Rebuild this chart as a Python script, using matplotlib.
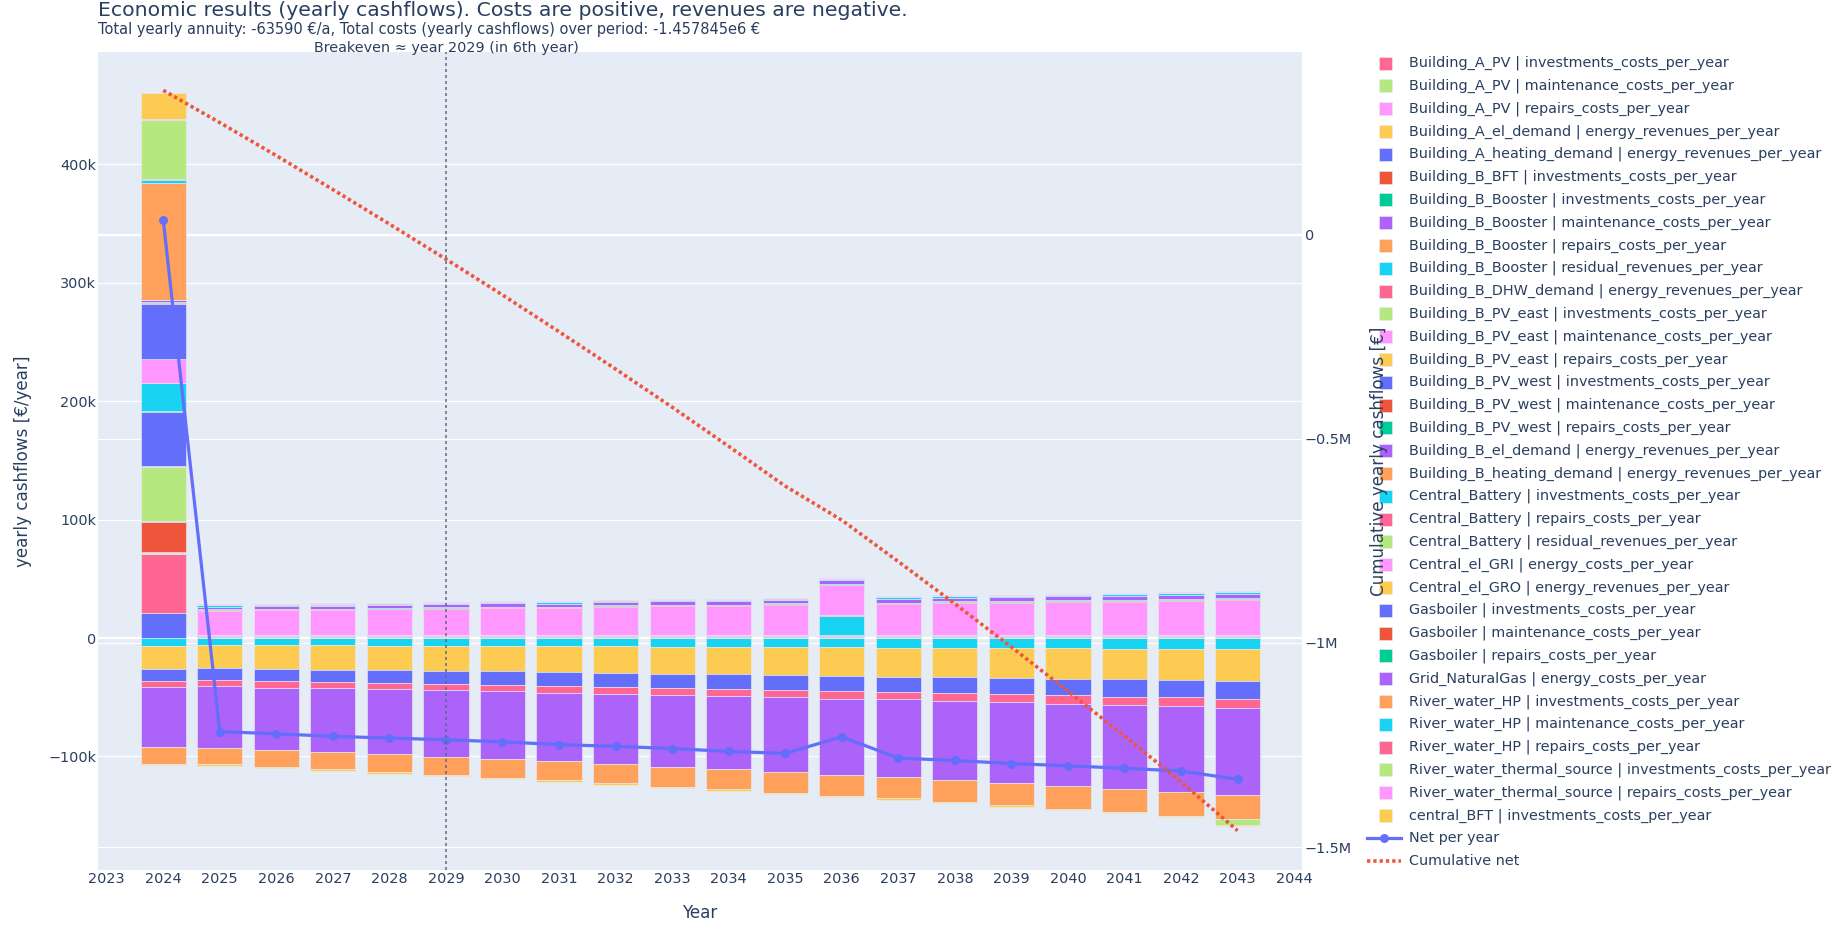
import matplotlib
matplotlib.use("Agg")
import matplotlib.pyplot as plt
import numpy as np
from matplotlib.patches import Rectangle
from matplotlib.lines import Line2D
from matplotlib.transforms import blended_transform_factory
from matplotlib.ticker import FuncFormatter

plt.rcParams['font.family'] = ['DejaVu Sans']

# ---------------- data (k€ per year) ----------------
years = [2024, 2025, 2026, 2027, 2028, 2029, 2030, 2031, 2032, 2033,
         2034, 2035, 2036, 2037, 2038, 2039, 2040, 2041, 2042, 2043]

# segments drawn in the chart that have no legend entry
unlisted_pos = [21.0, 0, 0, 0, 0, 0, 0, 0, 0, 0, 0, 0, 0, 0, 0, 0, 0, 0, 0, 0]
unlisted_neg = [-7.0, -6.1, -6.2, -6.2, -6.6, -6.6, -6.9, -6.9, -7.1, -7.2,
                -7.6, -7.6, -7.6, -8.0, -8.1, -8.1, -8.6, -8.9, -8.9, -9.4]

a_pv_inv = [50.0, 0, 0, 0, 0, 0, 0, 0, 0, 0, 0, 0, 0, 0, 0, 0, 0, 0, 0, 0]
a_pv_maint = [1.0, 0.5, 0.5, 0.5, 0.5, 0.5, 0.5, 0.5, 0.5, 0.5, 0.5, 0.5, 0.5, 0.5, 0.5, 0.5, 0.5, 0.5, 0.5, 0.5]
a_pv_rep = [0.9, 0.3, 0.3, 0.3, 0.3, 0.3, 0.3, 0.3, 0.3, 0.3, 0.3, 0.3, 0.3, 0.3, 0.3, 0.3, 0.3, 0.3, 0.3, 0.3]
a_el_rev = [-19.0, -19.5, -20.0, -20.4, -20.6, -21.3, -21.2, -22.0, -22.4, -23.0,
            -23.2, -23.7, -24.3, -24.5, -25.2, -25.7, -25.6, -26.0, -26.8, -27.3]
a_heat_rev = [-9.9, -10.1, -10.3, -10.7, -11.0, -10.8, -11.3, -11.3, -11.6, -11.7,
              -11.9, -12.2, -12.8, -13.0, -13.0, -13.6, -13.9, -14.5, -14.5, -14.8]
b_bft_inv = [25.3, 0, 0, 0, 0, 0, 0, 0, 0, 0, 0, 0, 0, 0, 0, 0, 0, 0, 0, 0]
b_boost_inv = [0.2, 0, 0, 0, 0, 0, 0, 0, 0, 0, 0, 0, 0, 0, 0, 0, 0, 0, 0, 0]
b_boost_maint = [0.2, 0.5, 0.5, 0.5, 0.5, 0.5, 0.5, 0.5, 0.5, 0.5, 0.5, 0.5, 0.5, 0.5, 0.5, 0.5, 0.5, 0.5, 0.5, 0.5]
b_boost_rep = [0.2, 0.3, 0.3, 0.3, 0.3, 0.3, 0.3, 0.3, 0.3, 0.3, 0.3, 0.3, 0.3, 0.3, 0.3, 0.3, 0.3, 0.3, 0.3, 0.3]
b_boost_resid = [0, 0, 0, 0, 0, 0, 0, 0, 0, 0, 0, 0, 0, 0, 0, 0, 0, 0, 0, 0]
b_dhw_rev = [-5.1, -5.2, -5.3, -5.2, -5.1, -5.5, -5.5, -6.0, -5.9, -6.2,
             -6.5, -6.5, -6.4, -6.4, -6.8, -6.8, -7.2, -7.1, -7.4, -7.4]
b_pve_inv = [45.4, 0, 0, 0, 0, 0, 0, 0, 0, 0, 0, 0, 0, 0, 0, 0, 0, 0, 0, 0]
b_pve_maint = [0.5, 0.3, 0.3, 0.3, 0.3, 0.3, 0.3, 0.3, 0.3, 0.3, 0.3, 0.3, 0.3, 0.3, 0.3, 0.3, 0.3, 0.3, 0.3, 0.3]
b_pve_rep = [0.6, 0.2, 0.2, 0.2, 0.2, 0.2, 0.2, 0.2, 0.2, 0.2, 0.2, 0.2, 0.2, 0.2, 0.2, 0.2, 0.2, 0.2, 0.2, 0.2]
b_pvw_inv = [45.3, 0, 0, 0, 0, 0, 0, 0, 0, 0, 0, 0, 0, 0, 0, 0, 0, 0, 0, 0]
b_pvw_maint = [0.5, 0.3, 0.3, 0.3, 0.3, 0.3, 0.3, 0.3, 0.3, 0.3, 0.3, 0.3, 0.3, 0.3, 0.3, 0.3, 0.3, 0.3, 0.3, 0.3]
b_pvw_rep = [0.5, 0.1, 0.1, 0.1, 0.1, 0.1, 0.1, 0.1, 0.1, 0.1, 0.1, 0.1, 0.1, 0.1, 0.1, 0.1, 0.1, 0.1, 0.1, 0.1]
b_el_rev = [-51.2, -51.7, -52.8, -53.8, -55.0, -56.0, -57.4, -58.0, -59.6, -60.7,
            -61.8, -62.9, -64.3, -65.8, -66.9, -68.6, -69.7, -71.1, -72.5, -73.7]
b_heat_rev = [-13.8, -14.1, -14.2, -14.7, -15.0, -15.1, -15.5, -16.0, -16.2, -16.6,
              -16.9, -17.6, -17.8, -17.8, -18.3, -18.4, -19.0, -19.2, -20.0, -20.3]
bat_inv = [23.6, 0, 0, 0, 0, 0, 0, 0, 0, 0, 0, 0, 15.9, 0, 0, 0, 0, 0, 0, 0]
bat_rep = [0.3, 0.2, 0.2, 0.2, 0.2, 0.2, 0.2, 0.2, 0.2, 0.2, 0.2, 0.2, 1.0, 0.2, 0.2, 0.2, 0.2, 0.2, 0.2, 0.2]
bat_resid = [0, 0, 0, 0, 0, 0, 0, 0, 0, 0, 0, 0, 0, 0, 0, 0, 0, 0, 0, -5.2]
gri_cost = [19.9, 20.4, 20.7, 20.7, 21.5, 21.8, 22.4, 22.4, 23.5, 24.1,
            24.1, 25.2, 25.1, 26.0, 26.9, 26.9, 27.7, 28.0, 28.6, 29.4]
gro_rev = [-1.0, -1.0, -1.1, -1.2, -1.2, -1.1, -1.2, -1.0, -1.0, -0.9,
           -0.9, -1.1, -1.0, -1.2, -1.2, -1.2, -1.2, -1.1, -1.0, -0.9]
gb_inv = [46.4, 0, 0, 0, 0, 0, 0, 0, 0, 0, 0, 0, 0, 0, 0, 0, 0, 0, 0, 0]
gb_maint = [1.0, 0.7, 0.7, 0.7, 0.7, 0.7, 0.7, 0.7, 0.7, 0.7, 0.7, 0.7, 0.7, 0.7, 0.7, 0.7, 0.7, 0.7, 0.7, 0.7]
gb_rep = [0.8, 0.6, 0.6, 0.6, 0.6, 0.6, 0.6, 0.6, 0.6, 0.6, 0.6, 0.6, 0.6, 0.6, 0.6, 0.6, 0.6, 0.6, 0.6, 0.6]
gas_cost = [1.8, 2.2, 2.2, 2.4, 2.4, 2.6, 2.8, 2.7, 2.7, 2.8,
            2.8, 2.9, 2.9, 3.2, 3.1, 3.4, 3.5, 3.8, 4.1, 4.2]
hp_inv = [99.2, 0, 0, 0, 0, 0, 0, 0, 0, 0, 0, 0, 0, 0, 0, 0, 0, 0, 0, 0]
hp_maint = [1.8, 1.1, 1.1, 1.1, 1.1, 1.1, 1.1, 1.1, 1.1, 1.1, 1.1, 1.1, 1.1, 1.1, 1.1, 1.1, 1.1, 1.1, 1.1, 1.1]
hp_rep = [0.9, 0.4, 0.4, 0.4, 0.4, 0.4, 0.4, 0.4, 0.4, 0.4, 0.4, 0.4, 0.4, 0.4, 0.4, 0.4, 0.4, 0.4, 0.4, 0.4]
rts_inv = [50.2, 0, 0, 0, 0, 0, 0, 0, 0, 0, 0, 0, 0, 0, 0, 0, 0, 0, 0, 0]
rts_rep = [0.5, 0.6, 0.6, 0.6, 0.6, 0.6, 0.6, 0.6, 0.6, 0.6, 0.6, 0.6, 0.6, 0.6, 0.6, 0.6, 0.6, 0.6, 0.6, 0.6]
cbft_inv = [22.0, 0, 0, 0, 0, 0, 0, 0, 0, 0, 0, 0, 0, 0, 0, 0, 0, 0, 0, 0]

labels = [
    "Building_A_PV | investments_costs_per_year",
    "Building_A_PV | maintenance_costs_per_year",
    "Building_A_PV | repairs_costs_per_year",
    "Building_A_el_demand | energy_revenues_per_year",
    "Building_A_heating_demand | energy_revenues_per_year",
    "Building_B_BFT | investments_costs_per_year",
    "Building_B_Booster | investments_costs_per_year",
    "Building_B_Booster | maintenance_costs_per_year",
    "Building_B_Booster | repairs_costs_per_year",
    "Building_B_Booster | residual_revenues_per_year",
    "Building_B_DHW_demand | energy_revenues_per_year",
    "Building_B_PV_east | investments_costs_per_year",
    "Building_B_PV_east | maintenance_costs_per_year",
    "Building_B_PV_east | repairs_costs_per_year",
    "Building_B_PV_west | investments_costs_per_year",
    "Building_B_PV_west | maintenance_costs_per_year",
    "Building_B_PV_west | repairs_costs_per_year",
    "Building_B_el_demand | energy_revenues_per_year",
    "Building_B_heating_demand | energy_revenues_per_year",
    "Central_Battery | investments_costs_per_year",
    "Central_Battery | repairs_costs_per_year",
    "Central_Battery | residual_revenues_per_year",
    "Central_el_GRI | energy_costs_per_year",
    "Central_el_GRO | energy_revenues_per_year",
    "Gasboiler | investments_costs_per_year",
    "Gasboiler | maintenance_costs_per_year",
    "Gasboiler | repairs_costs_per_year",
    "Grid_NaturalGas | energy_costs_per_year",
    "River_water_HP | investments_costs_per_year",
    "River_water_HP | maintenance_costs_per_year",
    "River_water_HP | repairs_costs_per_year",
    "River_water_thermal_source | investments_costs_per_year",
    "River_water_thermal_source | repairs_costs_per_year",
    "central_BFT | investments_costs_per_year",
]
series = [a_pv_inv, a_pv_maint, a_pv_rep, a_el_rev, a_heat_rev, b_bft_inv,
          b_boost_inv, b_boost_maint, b_boost_rep, b_boost_resid, b_dhw_rev,
          b_pve_inv, b_pve_maint, b_pve_rep, b_pvw_inv, b_pvw_maint, b_pvw_rep,
          b_el_rev, b_heat_rev, bat_inv, bat_rep, bat_resid, gri_cost, gro_rev,
          gb_inv, gb_maint, gb_rep, gas_cost, hp_inv, hp_maint, hp_rep,
          rts_inv, rts_rep, cbft_inv]

colorway = ['#636EFA', '#EF553B', '#00CC96', '#AB63FA', '#FFA15A',
            '#19D3F3', '#FF6692', '#B6E880', '#FF97FF', '#FECB52']
colors = [colorway[(i + 6) % 10] for i in range(len(labels))]

title = "Economic results (yearly cashflows). Costs are positive, revenues are negative."
subtitle = "Total yearly annuity: -63590 €/a, Total costs (yearly cashflows) over period: -1.457845e6 €"
breakeven_year = 2029
breakeven_text = "Breakeven ≈ year 2029 (in 6th year)"

# ---------------- figure ----------------
W, H, DPI = 1848, 925, 100
PT = 72.0 / DPI
TXT = '#2a3f5f'
BG = '#E5ECF6'

fig = plt.figure(figsize=(W / DPI, H / DPI), dpi=DPI, facecolor='white')
L, R, T, B = 98, 1302, 52, 870
ax = fig.add_axes([L / W, 1 - B / H, (R - L) / W, (B - T) / H])
ax.set_facecolor(BG)
for s in ax.spines.values():
    s.set_visible(False)
ax2 = ax.twinx()
for s in ax2.spines.values():
    s.set_visible(False)

x = np.array(years, dtype=float)
pos_base = np.zeros(len(years))
neg_base = np.zeros(len(years))
net = np.zeros(len(years))

def stack(vals_k, color):
    global pos_base, neg_base, net
    v = np.array(vals_k, dtype=float) * 1000.0
    bottom = np.where(v >= 0, pos_base, neg_base)
    m = v != 0
    if m.any():
        ax.bar(x[m], v[m], bottom=bottom[m], width=0.8, color=color,
               edgecolor=BG, linewidth=0.6 * PT, zorder=2)
    pos_base = pos_base + np.where(v > 0, v, 0)
    neg_base = neg_base + np.where(v < 0, v, 0)
    net = net + v

stack(unlisted_pos, colorway[0])
stack(unlisted_neg, colorway[5])
for vals, c in zip(series, colors):
    stack(vals, c)

cum = np.cumsum(net)

ax.plot(x, net, color='#636EFA', lw=3.2 * PT, marker='o', markersize=7.5 * PT,
        zorder=4, solid_joinstyle='round')
ax2.plot(x, cum, color='#EF553B', lw=3.6 * PT, dashes=(0.92, 0.83), zorder=5,
         dash_capstyle='butt')

# breakeven line
ax2.axvline(breakeven_year, color='#5d6780', lw=1.5 * PT, dashes=(2, 2), zorder=6)
ax.annotate(breakeven_text, xy=(breakeven_year, 1.0),
            xycoords=('data', 'axes fraction'), xytext=(0, 0.5 * PT),
            textcoords='offset points', ha='center', va='baseline',
            fontsize=14.4 * PT, color=TXT, annotation_clip=False)

# grids
ax.set_yticks([-100e3, 0, 100e3, 200e3, 300e3, 400e3])
for v in [-100e3, 100e3, 200e3, 300e3, 400e3]:
    ax.axhline(v, color='white', lw=1.2 * PT, zorder=0.5)
ax.axhline(0, color='white', lw=2.4 * PT, zorder=0.7)
trans2 = blended_transform_factory(ax.transAxes, ax2.transData)
for v in [-0.5e6, -1e6, -1.5e6]:
    ax.plot([0, 1], [v, v], transform=trans2, color='white', lw=1.2 * PT, zorder=0.5)
ax.plot([0, 1], [0, 0], transform=trans2, color='white', lw=2.4 * PT, zorder=0.7)

ax.set_xlim(2022.846, 2044.14)
ax.set_ylim(-195.9e3, 494.9e3)
ax2.set_ylim(-1.5561e6, 0.4469e6)

def kfmt(v, p):
    if abs(v) < 1:
        return '0'
    return ('%dk' % round(v / 1000)).replace('-', '\u2212')

def mfmt(v, p):
    if abs(v) < 1:
        return '0'
    return ('%gM' % (v / 1e6)).replace('-', '\u2212')

ax.yaxis.set_major_formatter(FuncFormatter(kfmt))
ax2.set_yticks([-1.5e6, -1e6, -0.5e6, 0])
ax2.yaxis.set_major_formatter(FuncFormatter(mfmt))
ax.set_xticks(list(range(2023, 2045)))
ax.set_xticklabels([str(y) for y in range(2023, 2045)])
ax.tick_params(axis='x', length=0, pad=2 * PT, labelsize=14.4 * PT, labelcolor=TXT)
ax.tick_params(axis='y', length=0, pad=2 * PT, labelsize=14.4 * PT, labelcolor=TXT)
ax2.tick_params(axis='y', length=0, pad=3 * PT, labelsize=14.4 * PT, labelcolor=TXT)

def fx(px):
    return px / W

def fy(py):
    return 1 - py / H

# titles
fig.text(fx(98), fy(16.5), title, ha='left', va='baseline', fontsize=20.4 * PT, color=TXT)
fig.text(fx(98), fy(34), subtitle, ha='left', va='baseline', fontsize=14.6 * PT, color=TXT)
fig.text(fx(700), fy(913.5), 'Year', ha='center', va='center', fontsize=16.8 * PT, color=TXT)
fig.text(fx(23.5), fy(461), 'yearly cashflows [€/year]', rotation=90, ha='center',
         va='center', fontsize=16.8 * PT, color=TXT)
fig.text(fx(1379), fy(461), 'Cumulative yearly cashflows [€]', rotation=90, ha='center',
         va='center', fontsize=16.8 * PT, color=TXT, zorder=10)

# legend
y0, dy = 63.0, 22.8
for i, (lab, c) in enumerate(zip(labels, colors)):
    yc = y0 + i * dy
    fig.add_artist(Rectangle((fx(1378.5), fy(yc + 6.5)), 13 / W, 13 / H,
                             transform=fig.transFigure, facecolor=c,
                             edgecolor=BG, lw=0.6 * PT, zorder=2))
    fig.text(fx(1409), fy(yc), lab, ha='left', va='center', fontsize=14.4 * PT,
             color=TXT, zorder=3)
i = len(labels)
yc = y0 + i * dy
fig.add_artist(Line2D([fx(1367), fx(1401)], [fy(yc), fy(yc)], transform=fig.transFigure,
                      color='#636EFA', lw=3.2 * PT, zorder=2))
fig.add_artist(Line2D([fx(1384)], [fy(yc)], transform=fig.transFigure, marker='o',
                      markersize=7.5 * PT, color='#636EFA', zorder=2))
fig.text(fx(1409), fy(yc), 'Net per year', ha='left', va='center', fontsize=14.4 * PT,
         color=TXT, zorder=3)
yc = y0 + (i + 1) * dy
fig.add_artist(Line2D([fx(1367), fx(1401)], [fy(yc), fy(yc)], transform=fig.transFigure,
                      color='#EF553B', lw=3.6 * PT, dashes=(0.92, 0.83), zorder=2))
fig.text(fx(1409), fy(yc), 'Cumulative net', ha='left', va='center', fontsize=14.4 * PT,
         color=TXT, zorder=3)

fig.savefig('out.png', dpi=DPI, facecolor='white')
